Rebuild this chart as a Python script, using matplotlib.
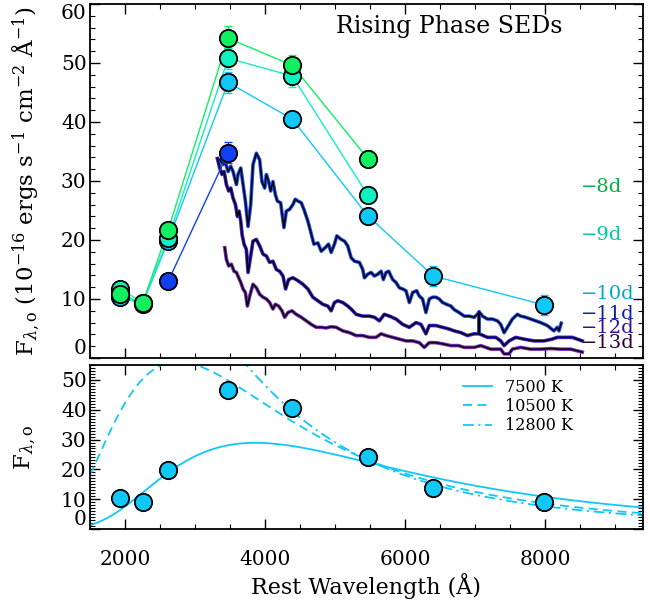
import numpy as np
import matplotlib
matplotlib.use('Agg')
import matplotlib.pyplot as plt
from matplotlib.ticker import MultipleLocator

plt.rcParams['font.family'] = ['DejaVu Serif']
plt.rcParams['mathtext.fontset'] = 'dejavuserif'

# photometric SEDs (filter wavelength in A, flux in 1e-16 erg/s/cm2/A)
wave_8 = [1929, 2252, 2617, 3473, 4390, 5469]
flux_m8 = [10.8, 9.3, 21.7, 54.2, 49.6, 33.8]
err_m8 = [0.5, 0.5, 0.8, 2.0, 1.8, 1.5]
flux_m9 = [11.7, 9.4, 20.3, 50.8, 47.8, 27.6]
err_m9 = [0.5, 0.5, 0.8, 1.8, 1.8, 1.4]
wave_10 = [1929, 2252, 2617, 3473, 4390, 5469, 6405, 7987]
flux_m10 = [10.3, 9.2, 19.9, 46.7, 40.5, 24.1, 13.9, 9.0]
err_m10 = [0.5, 0.5, 0.8, 1.8, 1.3, 0.9, 1.7, 1.7]
wave_11 = [2617, 3473]
flux_m11 = [13.0, 34.8]
err_m11 = [0.6, 1.8]

# spectra (wavelength, flux)
spec_m11 = [(3354, 33.6), (3402, 32.8), (3435, 33.1), (3473, 31.6), (3511, 32.5), (3544, 31.6),
            (3592, 29.4), (3615, 31.1), (3654, 32.2), (3687, 29.4), (3720, 26.6), (3758, 22.3),
            (3796, 26.0), (3829, 32.8), (3877, 34.7), (3924, 33.6), (3957, 29.9), (3996, 28.8),
            (4020, 31.1), (4053, 29.9), (4081, 28.3), (4114, 29.9), (4148, 27.7), (4177, 26.6),
            (4224, 26.3), (4271, 22.1), (4305, 24.9), (4352, 25.2), (4399, 26.0), (4433, 26.9),
            (4471, 26.6), (4519, 26.3), (4556, 25.2), (4613, 23.2), (4651, 21.5), (4699, 19.3),
            (4756, 19.5), (4804, 18.1), (4861, 18.7), (4908, 19.3), (4946, 17.9), (4993, 19.3),
            (5027, 20.7), (5089, 20.1), (5136, 19.8), (5183, 19.0), (5231, 17.0), (5279, 16.4),
            (5350, 16.2), (5397, 15.0), (5421, 13.6), (5468, 14.2), (5516, 14.5), (5564, 13.9),
            (5611, 14.2), (5659, 14.7), (5692, 13.3), (5730, 14.5), (5768, 14.7), (5825, 13.3),
            (5873, 12.8), (5920, 11.9), (5967, 11.7), (6015, 11.4), (6063, 9.4), (6110, 11.1),
            (6167, 11.4), (6205, 10.5), (6252, 10.0), (6300, 7.7), (6348, 10.0), (6395, 10.3),
            (6443, 10.3), (6490, 10.0), (6538, 9.4), (6595, 9.1), (6657, 8.8), (6704, 8.2),
            (6775, 7.7), (6847, 7.1), (6918, 7.1), (6989, 6.9), (7036, 7.4), (7061, 7.8),
            (7061, 4.3), (7061, 7.8), (7108, 7.1), (7179, 6.6), (7250, 6.6), (7322, 6.3),
            (7369, 5.7), (7417, 4.3), (7464, 5.2), (7535, 6.6), (7607, 7.4), (7654, 7.1),
            (7726, 6.9), (7797, 6.6), (7868, 6.3), (7940, 6.0), (8034, 5.5), (8130, 4.6),
            (8177, 5.2), (8201, 4.6), (8234, 5.9)]
spec_m12 = [(3320, 33.8), (3354, 32.2), (3387, 31.1), (3416, 31.6), (3449, 29.4), (3482, 28.3),
            (3511, 28.8), (3544, 27.1), (3578, 26.0), (3606, 24.0), (3630, 24.9), (3654, 23.2),
            (3673, 20.9), (3701, 19.3), (3734, 18.4), (3758, 14.5), (3796, 17.3), (3829, 19.8),
            (3877, 20.1), (3924, 19.0), (3972, 17.6), (4020, 17.3), (4067, 16.2), (4114, 16.4),
            (4162, 15.0), (4210, 14.7), (4257, 13.9), (4295, 11.7), (4338, 13.3), (4399, 13.6),
            (4471, 13.1), (4542, 12.5), (4613, 11.7), (4684, 10.3), (4756, 9.7), (4827, 9.1),
            (4898, 8.8), (4946, 8.0), (4993, 9.4), (5041, 9.7), (5112, 9.4), (5183, 8.8),
            (5231, 8.3), (5303, 7.4), (5397, 7.1), (5492, 7.1), (5564, 6.9), (5635, 6.3),
            (5706, 7.4), (5778, 7.1), (5873, 6.6), (5967, 5.7), (6063, 5.2), (6158, 6.0),
            (6229, 5.7), (6300, 4.1), (6348, 5.5), (6443, 5.5), (6538, 5.2), (6633, 4.9),
            (6704, 4.6), (6799, 4.3), (6894, 3.8), (6989, 4.1), (7061, 4.1), (7179, 3.5),
            (7298, 3.5), (7369, 2.9), (7417, 2.1), (7488, 2.9), (7583, 3.5), (7702, 3.2),
            (7845, 2.9), (7987, 2.9), (8105, 3.2), (8177, 3.5), (8296, 3.5), (8391, 3.5),
            (8463, 3.2), (8534, 2.9)]
spec_m13 = [(3425, 18.7), (3449, 16.7), (3482, 15.6), (3520, 15.9), (3558, 14.7), (3592, 14.5),
            (3625, 13.6), (3654, 12.8), (3687, 11.7), (3720, 11.1), (3749, 8.8), (3782, 10.5),
            (3829, 12.5), (3877, 11.9), (3924, 10.8), (3972, 10.3), (4020, 10.0), (4067, 9.4),
            (4114, 8.3), (4148, 9.1), (4195, 8.8), (4243, 8.0), (4281, 6.9), (4328, 7.7),
            (4385, 8.0), (4447, 7.4), (4519, 6.9), (4590, 6.3), (4661, 5.7), (4732, 5.2),
            (4804, 5.2), (4875, 5.1), (4946, 5.3), (5017, 5.2), (5112, 4.6), (5207, 4.3),
            (5303, 3.8), (5397, 3.8), (5492, 3.5), (5587, 3.5), (5659, 4.1), (5730, 3.8),
            (5825, 3.5), (5920, 3.2), (6015, 2.9), (6110, 2.9), (6205, 2.6), (6276, 1.8),
            (6348, 2.6), (6443, 2.6), (6538, 2.4), (6657, 2.1), (6766, 2.1), (6847, 1.8),
            (6989, 1.8), (7084, 2.1), (7227, 1.5), (7369, 1.5), (7417, 0.7), (7488, 0.7),
            (7535, 1.5), (7654, 1.8), (7797, 1.5), (7940, 1.5), (8082, 1.6), (8224, 1.5),
            (8367, 1.5), (8534, 1.0)]

epoch_labels = ['\u22128d', '\u22129d', '\u221210d', '\u221211d', '\u221212d', '\u221213d']
label_y = [28.9, 20.9, 10.8, 7.4, 5.0, 2.6]
label_colors = ['#00b040', '#00c8a0', '#00a8c8', '#1020a0', '#3010a0', '#300038']

# blackbody fits shown in lower panel
bb_temps = [7500, 10500, 12800]
bb_peaks = [28.9, 56.0, 91.0]

c8, c9, c10, c11 = '#10f060', '#10f0c0', '#10c8f8', '#1040f0'

fig = plt.figure(figsize=(6.5, 6.03), dpi=100)
ax1 = fig.add_axes([0.1385, 0.4063, 0.8505, 0.5871])
ax2 = fig.add_axes([0.1385, 0.1227, 0.8505, 0.2720])

# spectra: coloured outline with a black line on top
for spec, col in [(spec_m13, '#8030c0'), (spec_m12, '#4020e0'), (spec_m11, '#2050ff')]:
    s = np.array(spec)
    ax1.plot(s[:, 0], s[:, 1], color=col, lw=2.6, solid_joinstyle='round', zorder=2)
    ax1.plot(s[:, 0], s[:, 1], color='black', lw=1.1, zorder=3)

def sed(ax, w, f, e, col):
    ax.plot(w, f, '-', color=col, lw=1.0, zorder=4)
    ax.errorbar(w, f, yerr=e, fmt='none', ecolor=col, elinewidth=1.0, capsize=3, zorder=4)
    ax.plot(w, f, 'o', ms=12.5, mfc=col, mec='black', mew=1.3, zorder=5)

sed(ax1, wave_10, flux_m10, err_m10, c10)
sed(ax1, wave_8, flux_m9, err_m9, c9)
sed(ax1, wave_8, flux_m8, err_m8, c8)
sed(ax1, wave_11, flux_m11, err_m11, c11)

for t, y, col in zip(epoch_labels, label_y, label_colors):
    ax1.text(8510, y, t, color=col, fontsize=14, ha='left', va='center', zorder=6)

ax1.text(0.445, 0.935, 'Rising Phase SEDs', transform=ax1.transAxes, fontsize=17,
         ha='left', va='center')

# lower panel
lam = np.linspace(1500, 9400, 800)
styles = [dict(ls='-'), dict(dashes=(5, 3)), dict(dashes=(6, 2.5, 1.2, 2.5))]
for T, pk, st in zip(bb_temps, bb_peaks, styles):
    b = lam ** -5.0 / (np.exp(1.4388e8 / (lam * T)) - 1.0)
    ax2.plot(lam, pk * b / b.max(), color=c10, lw=1.3, label='%d K' % T, **st)
ax2.plot(wave_10, flux_m10, 'o', ms=12.5, mfc=c10, mec='black', mew=1.3, zorder=5)
ax2.legend(loc='upper left', bbox_to_anchor=(0.655, 0.985), frameon=False, fontsize=11.5,
           handlelength=1.8, handletextpad=0.8, labelspacing=0.15, borderpad=0.2)

ax1.set_xlim(1500, 9400)
ax2.set_xlim(1500, 9400)
ax1.set_ylim(0, 60)
ax2.set_ylim(0, 55)

for ax in (ax1, ax2):
    ax.xaxis.set_major_locator(MultipleLocator(2000))
    ax.xaxis.set_minor_locator(MultipleLocator(500))
    ax.yaxis.set_major_locator(MultipleLocator(10))
    ax.tick_params(which='both', direction='in', top=True, right=True, labelsize=14.5)
    ax.tick_params(which='major', length=7, width=1.0)
    ax.tick_params(which='minor', length=3.5, width=0.8)
    ax.tick_params(axis='y', pad=2.5)
    for sp in ax.spines.values():
        sp.set_linewidth(1.3)
ax1.yaxis.set_minor_locator(MultipleLocator(2))
ax2.yaxis.set_minor_locator(MultipleLocator(1))
ax1.tick_params(labelbottom=False)
ax2.tick_params(axis='x', pad=15)

ax1.set_ylabel(r'F$_{\lambda,\mathrm{o}}$ (10$^{-16}$ ergs s$^{-1}$ cm$^{-2}$ Å$^{-1}$)', fontsize=16.5)
ax1.yaxis.set_label_coords(-0.087, 0.5)
ax2.set_ylabel(r'F$_{\lambda,\mathrm{o}}$', fontsize=16.5)
ax2.yaxis.set_label_coords(-0.094, 0.5)
ax2.set_xlabel('Rest Wavelength (Å)', fontsize=16, labelpad=3)

# keep the end labels of the y axes inside the panels
fig.canvas.draw()
for ax, top in ((ax1, 60), (ax2, None)):
    for tk in ax.yaxis.get_major_ticks():
        if tk.get_loc() == 0:
            tk.label1.set_va('bottom')
        elif top is not None and tk.get_loc() == top:
            tk.label1.set_va('top')

fig.savefig('out.png', dpi=100)
